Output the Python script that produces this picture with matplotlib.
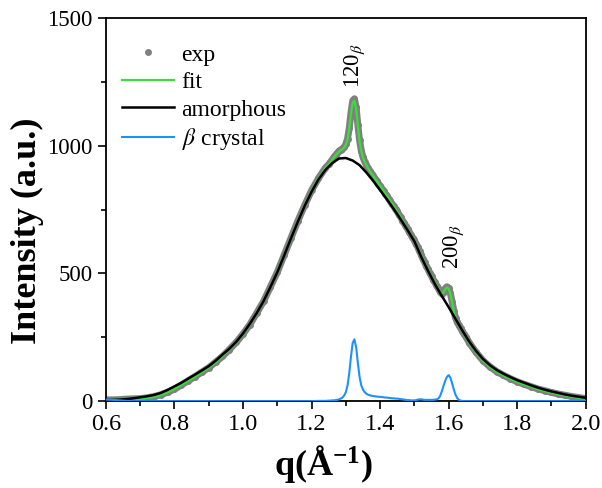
import numpy as np
import matplotlib
matplotlib.use('Agg')
import matplotlib.pyplot as plt
from matplotlib.ticker import MultipleLocator, FormatStrFormatter

# sampling grid of the measured / fitted curves (coarse - fine around peaks - coarse)
q_fit = np.concatenate([np.linspace(0.60, 1.24, 33),
                        np.linspace(1.25, 1.65, 81),
                        np.linspace(1.66, 2.00, 18)])

# grid of the amorphous halo
q_am = np.linspace(0.60, 2.00, 71)

exp_int = [
    5, 5, 6, 8, 9, 10, 13, 18, 25, 35,
    47, 63, 80, 96, 114, 131, 153, 175, 202, 230,
    263, 300, 345, 391, 448, 505, 572, 639, 706, 767,
    825, 872, 913,
    # 1.250 - 1.650
    927, 936, 945, 955, 963, 971, 979, 984, 988, 995, 1006,
    1028, 1070, 1130, 1176, 1184, 1150, 1082, 1022, 981, 955,
    938, 925, 912, 902, 890, 883, 871, 863, 851, 844,
    832, 824, 812, 805, 792, 784, 771, 764, 751, 743,
    730, 721, 707, 698, 684, 675, 662, 652, 639, 630,
    614, 603, 586, 573, 556, 543, 528, 516, 501, 490,
    475, 465, 451, 442, 428, 421, 428, 441, 448, 443,
    422, 390, 354, 326, 310, 297, 285, 274, 262, 253,
    # 1.66 - 2.00
    229, 191, 159, 135, 116, 101, 88, 76, 66, 57,
    48, 41, 34, 28, 23, 18, 14, 10,
]

fit_int = [
    4, 5, 6, 7, 8, 9, 12, 17, 24, 34,
    48, 63, 79, 96, 113, 131, 152, 176, 201, 229,
    262, 301, 344, 392, 447, 506, 571, 640, 705, 768,
    824, 873, 912,
    # 1.250 - 1.650
    926, 935, 946, 954, 962, 970, 978, 982, 987, 993, 1004,
    1025, 1067, 1126, 1170, 1176, 1145, 1078, 1019, 979, 954,
    937, 924, 912, 901, 891, 882, 872, 862, 852, 843,
    833, 823, 813, 804, 793, 783, 772, 763, 752, 742,
    731, 720, 708, 697, 685, 674, 663, 651, 640, 629,
    615, 602, 587, 572, 557, 542, 529, 515, 502, 489,
    476, 464, 452, 441, 428, 420, 426, 438, 445, 440,
    420, 388, 352, 325, 309, 296, 284, 273, 262, 252,
    # 1.66 - 2.00
    228, 190, 158, 134, 115, 100, 87, 75, 65, 56,
    47, 40, 33, 27, 22, 17, 13, 9,
]

crystal = [
    6, 5, 3, 1, 0, 0, 0, 0, 0, 0,
    0, 0, 0, 0, 0, 0, 0, 0, 0, 0,
    0, 0, 0, 0, 0, 0, 0, 0, 0, 0,
    0, 1, 1,
    # 1.250 - 1.650
    2, 2, 3, 3, 4, 5, 7, 10, 14, 22, 35,
    62, 110, 175, 228, 242, 212, 150, 95, 62, 45,
    35, 29, 25, 23, 21, 20, 19, 18, 17, 17,
    16, 15, 14, 14, 13, 12, 11, 11, 10, 10,
    9, 8, 7, 6, 5, 4, 4, 3, 3, 3,
    4, 6, 7, 7, 6, 5, 5, 5, 5, 5,
    5, 6, 7, 10, 20, 38, 60, 80, 95, 102,
    92, 70, 46, 25, 12, 5, 2, 1, 0, 0,
    # 1.66 - 2.00
    0, 0, 0, 0, 0, 0, 0, 0, 0, 0,
    0, 0, 0, 0, 0, 0, 0, 0,
]

amorph = [
    4, 5, 6, 8, 11, 15, 19, 24, 32, 44,
    58, 72, 88, 104, 120, 137, 158, 182, 205, 232,
    265, 303, 345, 392, 447, 505, 570, 638, 703, 765,
    820, 868, 905, 932, 950, 952, 942, 924, 895, 862,
    826, 790, 752, 712, 670, 626, 565, 510, 458, 412,
    368, 322, 276, 233, 196, 165, 141, 122, 107, 94,
    82, 72, 62, 53, 45, 38, 32, 26, 21, 17,
    13,
]

plt.rcParams['font.family'] = 'Liberation Serif'
plt.rcParams['mathtext.fontset'] = 'stix'

fig = plt.figure(figsize=(6.02, 4.88), dpi=100)
ax = fig.add_axes([0.176, 0.178, 0.797, 0.785])

# exp: dense grey dots
ax.plot(q_fit, exp_int, color='#808080', lw=5, solid_capstyle='round', zorder=1)
ax.plot(q_fit, exp_int, 'o', color='#808080', ms=5, mec='none', label='exp', zorder=1)
ax.plot(q_fit, fit_int, color='#3ddc3d', lw=1.6, label='fit', zorder=2)
ax.plot(q_am, amorph, color='black', lw=1.8, label='amorphous', zorder=3)
ax.plot(q_fit, crystal, color='#1e90ff', lw=1.5, label=r'$\beta$ crystal', zorder=4)

ax.set_xlim(0.6, 2.0)
ax.set_ylim(0, 1500)
ax.xaxis.set_major_locator(MultipleLocator(0.2))
ax.xaxis.set_minor_locator(MultipleLocator(0.1))
ax.xaxis.set_major_formatter(FormatStrFormatter('%.1f'))
ax.yaxis.set_major_locator(MultipleLocator(500))
ax.yaxis.set_minor_locator(MultipleLocator(250))
ax.tick_params(which='both', direction='out', top=False, right=False, width=1.2)
ax.tick_params(axis='x', labelsize=17.5)
ax.tick_params(axis='y', labelsize=16.5)
ax.tick_params(which='major', length=6)
ax.tick_params(which='minor', length=3.5)
for s in ax.spines.values():
    s.set_linewidth(1.3)

ax.set_xlabel(r'q($\mathregular{Å^{-1}}$)', fontsize=26, fontweight='bold')
ax.set_ylabel('Intensity (a.u.)', fontsize=26, fontweight='bold')
ax.xaxis.set_label_coords(0.454, -0.11)
ax.yaxis.set_label_coords(-0.13, 0.444)

# peak labels
ax.text(1.326, 1228, r'120$_{\beta}$', rotation=90, ha='center', va='bottom', fontsize=16.5)
ax.text(1.616, 518, r'200$_{\beta}$', rotation=90, ha='center', va='bottom', fontsize=16.5)

ax.legend(loc='upper left', bbox_to_anchor=(0.0, 0.975), frameon=False, fontsize=17,
          handlelength=2.2, handletextpad=0.3, labelspacing=0.25, numpoints=1,
          borderaxespad=0.3)

fig.savefig('out.png', dpi=100)
